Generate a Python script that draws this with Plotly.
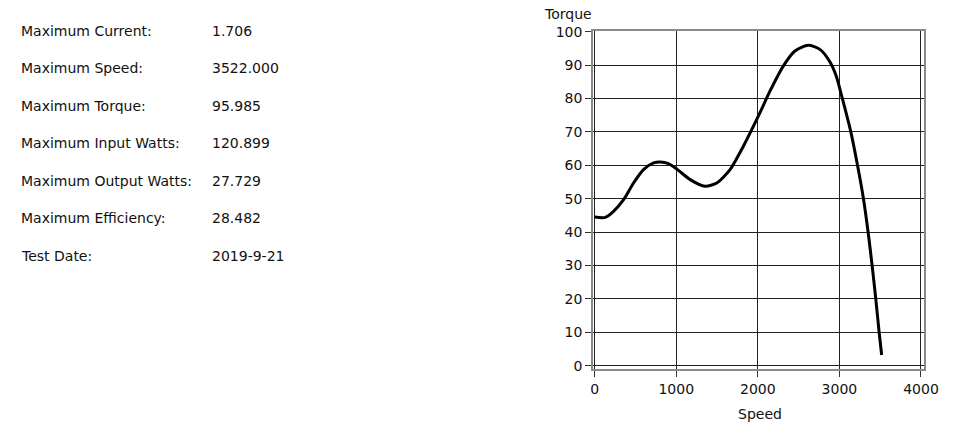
import plotly.graph_objects as go

# ---- data ----
speed = [0, 131, 232, 355, 477, 599, 722, 804, 905, 1015, 1171, 1354, 1497, 1660, 1823,
         2006, 2149, 2312, 2455, 2618, 2761, 2883, 2960, 3036, 3140, 3222, 3295, 3352,
         3401, 3446, 3487, 3518]
torque = [44.5, 44.4, 46.2, 49.7, 54.7, 58.7, 60.7, 61.0, 60.5, 58.7, 55.7, 53.7, 54.7, 58.7,
          65.7, 74.7, 82.2, 89.7, 94.2, 95.9, 94.7, 91.0, 86.8, 80.0, 70.0, 60.0, 50.0, 40.0,
          30.0, 20.0, 10.0, 3.2]

info_labels = ["Maximum Current:", "Maximum Speed:", "Maximum Torque:", "Maximum Input Watts:",
               "Maximum Output Watts:", "Maximum Efficiency:", "Test Date:"]
info_values = ["1.706", "3522.000", "95.985", "120.899", "27.729", "28.482", "2019-9-21"]

x_ticks = [0, 1000, 2000, 3000, 4000]
y_ticks = [0, 10, 20, 30, 40, 50, 60, 70, 80, 90, 100]

# ---- layout geometry (pixels) ----
W, H = 956, 426
PL, PR, PT, PB = 593, 924, 31, 369
FONT = "DejaVu Sans"
TXT = "#111111"


def px_x(px):
    return (px - PL) / (PR - PL)


def px_y(py):
    return (PB - py) / (PB - PT)


fig = go.Figure()
fig.add_trace(go.Scatter(x=speed, y=torque, mode="lines",
                         line=dict(color="black", width=3, shape="spline", smoothing=0.7),
                         hoverinfo="skip", showlegend=False))

annotations = []
row_y0, row_step = 30.7, 37.5
for i, (lab, val) in enumerate(zip(info_labels, info_values)):
    yy = px_y(row_y0 + i * row_step)
    annotations.append(dict(text=lab, xref="paper", yref="paper", x=px_x(18.5), y=yy,
                            xanchor="left", yanchor="middle", showarrow=False,
                            font=dict(family=FONT, size=14, color=TXT)))
    annotations.append(dict(text=val, xref="paper", yref="paper", x=px_x(209.5), y=yy,
                            xanchor="left", yanchor="middle", showarrow=False,
                            font=dict(family=FONT, size=14, color=TXT)))

annotations.append(dict(text="Torque", xref="paper", yref="paper", x=px_x(542), y=px_y(13.5),
                        xanchor="left", yanchor="middle", showarrow=False,
                        font=dict(family=FONT, size=14, color=TXT)))
annotations.append(dict(text="Speed", xref="paper", yref="paper", x=px_x(759.5), y=px_y(414),
                        xanchor="center", yanchor="middle", showarrow=False,
                        font=dict(family=FONT, size=14, color=TXT)))

fig.update_layout(
    width=W, height=H,
    margin=dict(l=PL, r=W - PR, t=PT, b=H - PB, autoexpand=False),
    paper_bgcolor="white", plot_bgcolor="white",
    font=dict(family=FONT, size=14, color=TXT),
    annotations=annotations,
    showlegend=False,
)
fig.update_xaxes(range=[-20, 4037], tickvals=x_ticks, ticktext=[str(v) for v in x_ticks],
                 showgrid=True, gridcolor="#222222", gridwidth=1,
                 showline=True, linecolor="#8a8a8a", linewidth=1.5, mirror=True,
                 ticks="outside", ticklen=6, tickcolor="#333333", tickwidth=1,
                 zeroline=False, tickfont=dict(family=FONT, size=14, color=TXT))
fig.update_yaxes(range=[-1, 100.2], tickvals=y_ticks, ticktext=[str(v) for v in y_ticks],
                 showgrid=True, gridcolor="#222222", gridwidth=1,
                 showline=True, linecolor="#8a8a8a", linewidth=1.5, mirror=True,
                 ticks="outside", ticklen=6, tickcolor="#333333", tickwidth=1,
                 zeroline=False, tickfont=dict(family=FONT, size=14, color=TXT))

fig.write_html("out.html", config={"displayModeBar": False},
               post_script="document.body.style.margin='0';document.body.style.padding='0';")
